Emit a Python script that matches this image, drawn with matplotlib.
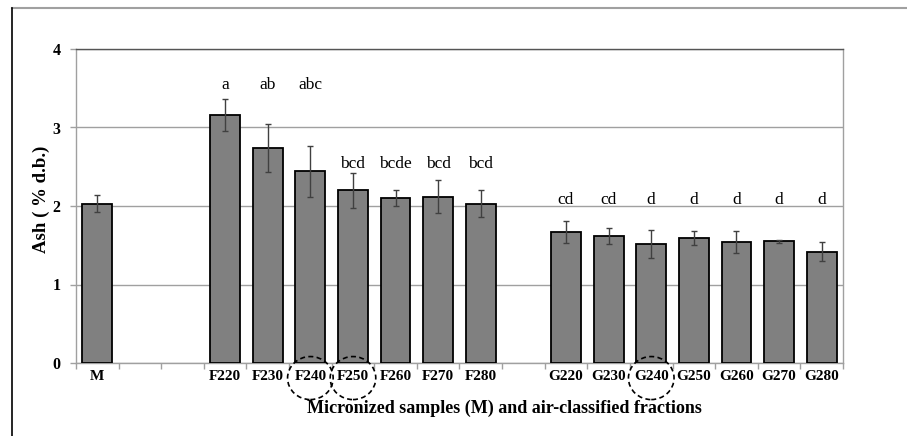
import matplotlib
matplotlib.use("Agg")
import matplotlib.pyplot as plt
from matplotlib.patches import Ellipse
from matplotlib.lines import Line2D
import matplotlib.transforms as mtransforms
import numpy as np

categories = ["M", "", "", "F220", "F230", "F240", "F250", "F260", "F270", "F280",
              "", "G220", "G230", "G240", "G250", "G260", "G270", "G280"]
values = [2.03, None, None, 3.16, 2.74, 2.44, 2.20, 2.10, 2.12, 2.03,
          None, 1.67, 1.62, 1.52, 1.59, 1.54, 1.55, 1.42]
errors = [0.11, None, None, 0.20, 0.31, 0.33, 0.22, 0.10, 0.21, 0.17,
          None, 0.14, 0.10, 0.18, 0.09, 0.14, 0.02, 0.12]
letters = ["", "", "", "a", "ab", "abc", "bcd", "bcde", "bcd", "bcd",
           "", "cd", "cd", "d", "d", "d", "d", "d"]
letter_heights = [0, 0, 0, 3.49, 3.49, 3.49, 2.48, 2.48, 2.48, 2.48,
                  0, 2.03, 2.03, 2.03, 2.03, 2.03, 2.03, 2.03]
circled = ["F240", "F250", "G240"]
y_ticks = [0, 1, 2, 3, 4]

serif = ["Liberation Serif", "DejaVu Serif"]
plt.rcParams['font.family'] = serif

fig = plt.figure(figsize=(9.07, 4.36), dpi=100)
ax = fig.add_axes([76/907, 73/436, 767/907, 314/436])

x = np.arange(len(categories))
idx = [i for i, v in enumerate(values) if v is not None]
vals = [values[i] for i in idx]
errs = [errors[i] for i in idx]

ax.bar(idx, vals, width=0.7, color="#808080", edgecolor="black", linewidth=1.3, zorder=3)
ax.errorbar(idx, vals, yerr=errs, fmt="none", ecolor="#404040", elinewidth=1.0,
            capsize=2.2, capthick=1.0, zorder=4)

for i in range(len(categories)):
    if letters[i]:
        ax.text(i, letter_heights[i], letters[i], ha="center", va="baseline",
                fontsize=12.5, family=serif, zorder=5)

ax.set_xlim(-0.5, len(categories) - 0.5)
ax.set_ylim(0, 4)
ax.set_yticks(y_ticks)
ax.set_yticklabels([str(t) for t in y_ticks], fontsize=11.5, fontweight="bold")
ax.yaxis.grid(True, color="#a0a0a0", linewidth=1.0, zorder=0)
ax.set_axisbelow(True)

# x ticks: labels at centers, tick marks at boundaries
ax.set_xticks(x)
ax.set_xticklabels(categories, fontsize=11, fontweight="bold")
ax.tick_params(axis="x", length=0, pad=5)
ax.set_xticks(np.arange(-0.5, len(categories), 1.0), minor=True)
ax.tick_params(axis="x", which="minor", length=4, color="#a0a0a0", width=1.0, direction="out")
ax.tick_params(axis="y", length=4, color="#a0a0a0", width=1.0, pad=7)

for s in ["left", "right", "bottom"]:
    ax.spines[s].set_color("#a0a0a0")
    ax.spines[s].set_linewidth(1.0)
ax.spines["top"].set_color("#555555")
ax.spines["top"].set_linewidth(1.0)

ax.set_ylabel("Ash ( % d.b.)", fontsize=13.5, fontweight="bold")
ax.yaxis.set_label_coords(-0.034, 0.52)
ax.set_xlabel("Micronized samples (M) and air-classified fractions", fontsize=13,
              fontweight="bold")
ax.xaxis.set_label_coords(0.559, -0.118)

# dashed circles around selected tick labels
trans = mtransforms.blended_transform_factory(ax.transData, ax.transAxes)
for name in circled:
    i = categories.index(name)
    e = Ellipse((i, -0.048), width=1.07, height=0.137, transform=trans,
                fill=False, edgecolor="black", linestyle=(0, (3, 2)), linewidth=1.2,
                clip_on=False, zorder=6)
    ax.add_artist(e)

# outer frame lines
fig.add_artist(Line2D([12/907, 1], [1 - 8/436, 1 - 8/436], transform=fig.transFigure,
                      color="#a0a0a0", linewidth=1.5))
fig.add_artist(Line2D([12/907, 12/907], [0, 1 - 8/436], transform=fig.transFigure,
                      color="black", linewidth=1.2))

fig.savefig("out.png", dpi=100)
